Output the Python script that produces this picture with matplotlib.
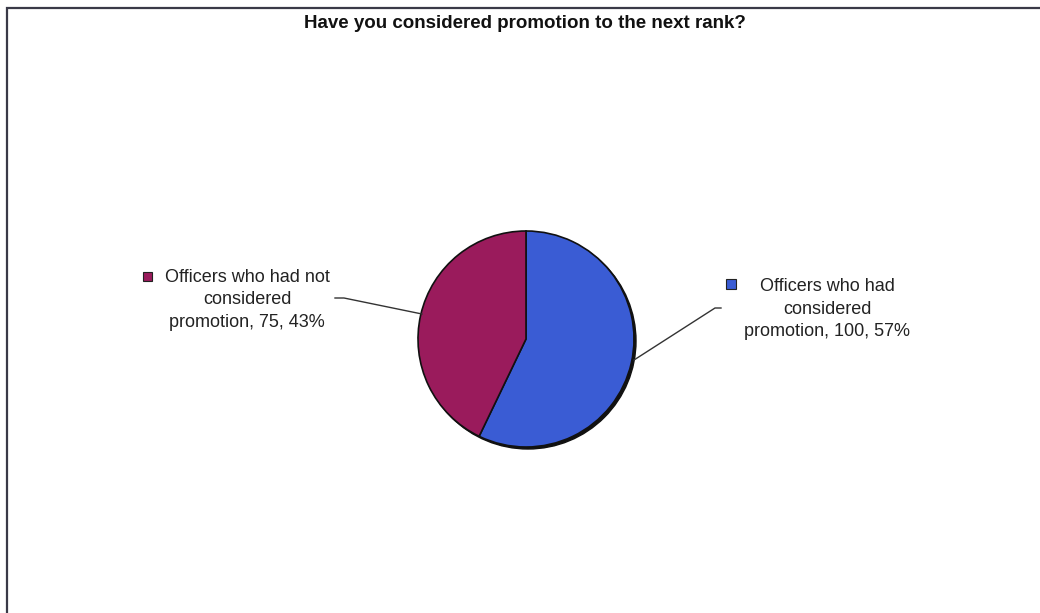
import matplotlib.pyplot as plt
from matplotlib.patches import Rectangle, Circle

plt.rcParams['font.family'] = ['Liberation Sans', 'DejaVu Sans']

title = "Have you considered promotion to the next rank?"
labels = ["Officers who had\nconsidered\npromotion", "Officers who had not\nconsidered\npromotion"]
values = [100, 75]
colors = ["#3a5cd4", "#9a1b5c"]

W, H = 1040, 613
fig = plt.figure(figsize=(W / 100, H / 100), dpi=100)
ax = fig.add_axes([0, 0, 1, 1])

# outer frame (bottom and right edges run off the page in the scan)
ax.add_patch(Rectangle((7, -20), 1060, H - 8 + 20, fill=False, edgecolor='#3a3a48', lw=1.6))

cx, cy, r = 526, H - 339, 108
# slight shadow under the pie
ax.add_patch(Circle((cx + 2, cy - 2), r, color='#111111', zorder=1))
ax.pie(values, startangle=90, counterclock=False, center=(cx, cy), radius=r,
       colors=colors, wedgeprops=dict(edgecolor='#111111', linewidth=1.2, zorder=2),
       frame=True)
ax.set_xlim(0, W)
ax.set_ylim(0, H)
ax.set_aspect('equal')
ax.axis('off')

total = sum(values)
pct = [round(v / total * 100) for v in values]

fs = 13
# right label (first series)
ax.text(827, H - 309, f"{labels[0]}, {values[0]}, {pct[0]}%", ha='center', va='center',
        fontsize=fs, linespacing=1.45, color='#222222')
ax.add_patch(Rectangle((726, H - 289), 10, 10, facecolor=colors[0], edgecolor='#222222', lw=0.8))
ax.plot([721, 715, 634], [H - 308, H - 308, H - 360], color='#333333', lw=1)

# left label (second series)
ax.text(247, H - 300, f"{labels[1]}, {values[1]}, {pct[1]}%", ha='center', va='center',
        fontsize=fs, linespacing=1.45, color='#222222')
ax.add_patch(Rectangle((143, H - 281), 9, 9, facecolor=colors[1], edgecolor='#222222', lw=0.8))
ax.plot([335, 344, 422], [H - 298, H - 298, H - 314], color='#333333', lw=1)

ax.text(525, H - 24, title, ha='center', va='center', fontsize=13.5, fontweight='bold', color='#111111')

fig.savefig('out.png', dpi=100)
